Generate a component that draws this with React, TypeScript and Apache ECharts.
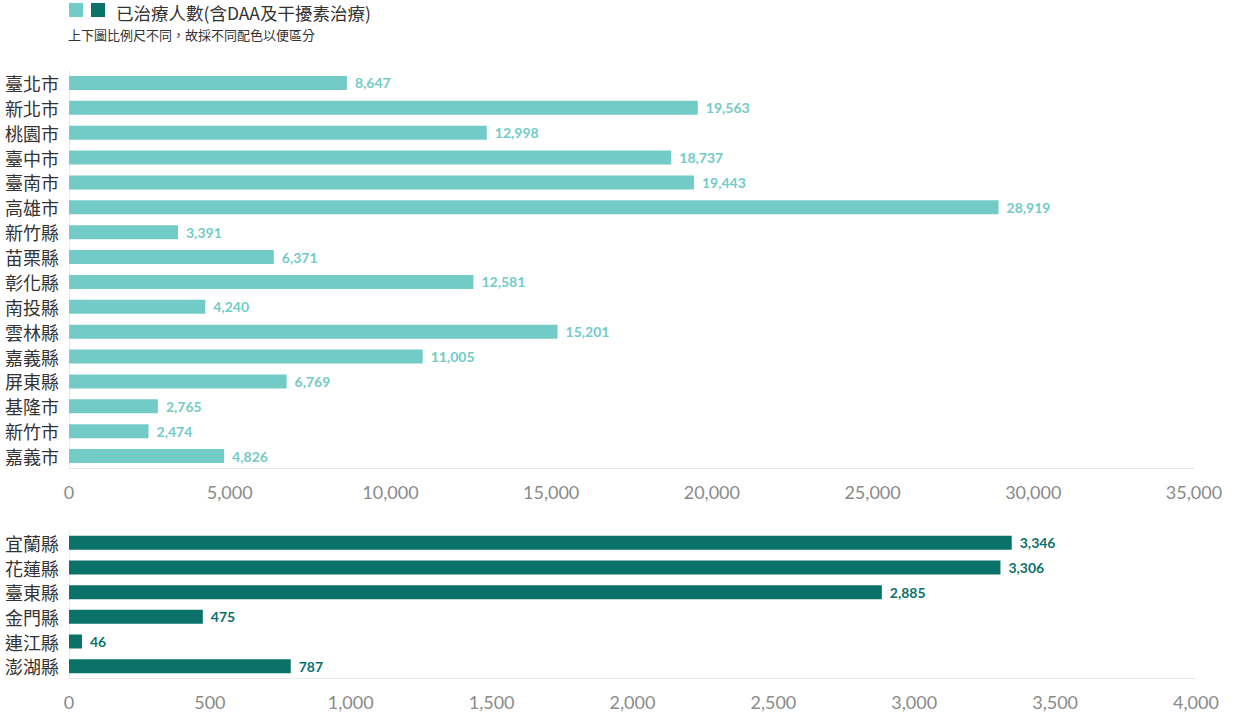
import React, { useEffect, useRef } from "react";
import * as echarts from "echarts";

const topCategories = ["臺北市", "新北市", "桃園市", "臺中市", "臺南市", "高雄市", "新竹縣", "苗栗縣", "彰化縣", "南投縣", "雲林縣", "嘉義縣", "屏東縣", "基隆市", "新竹市", "嘉義市"];
const topValues = [8647, 19563, 12998, 18737, 19443, 28919, 3391, 6371, 12581, 4240, 15201, 11005, 6769, 2765, 2474, 4826];
const bottomCategories = ["宜蘭縣", "花蓮縣", "臺東縣", "金門縣", "連江縣", "澎湖縣"];
const bottomValues = [3346, 3306, 2885, 475, 46, 787];
const legendTitle = "已治療人數(含DAA及干擾素治療)";
const legendNote = "上下圖比例尺不同，故採不同配色以便區分";

const topColor = "#72cbc6";
const bottomColor = "#0b726a";
const cjk = "'Noto Sans CJK TC', 'Noto Sans', sans-serif";
const num = "Lato, 'Noto Sans', sans-serif";

export default function App() {
  const ref = useRef<HTMLDivElement>(null);
  useEffect(() => {
    document.body.style.margin = "0";
    const chart = echarts.init(ref.current!, null, { renderer: "svg" });
    const fmt = (v: number) => v.toLocaleString("en-US");
    const xAxisCommon = {
      type: "value" as const,
      axisLine: { show: true, lineStyle: { color: "#e8e8e8", width: 1 } },
      axisTick: { show: false },
      splitLine: { show: false },
      axisLabel: { color: "#8a8a8a", fontSize: 18, fontFamily: num, margin: 14, formatter: (v: number) => fmt(v) },
    };
    const yAxisCommon = {
      type: "category" as const,
      inverse: true,
      axisLine: { show: true, lineStyle: { color: "#eeeeee", width: 1 } },
      axisTick: { show: false },
      axisLabel: { color: "#333333", fontSize: 18, fontFamily: cjk, margin: 10 },
    };
    chart.setOption({
      animation: false,
      grid: [
        { left: 69, right: 46, top: 70.5, height: 398 },
        { left: 69, right: 44, top: 530.5, height: 148 },
      ],
      xAxis: [
        { ...xAxisCommon, gridIndex: 0, min: 0, max: 35000, interval: 5000 },
        { ...xAxisCommon, gridIndex: 1, min: 0, max: 4000, interval: 500 },
      ],
      yAxis: [
        { ...yAxisCommon, gridIndex: 0, data: topCategories },
        { ...yAxisCommon, gridIndex: 1, data: bottomCategories },
      ],
      series: [
        {
          type: "bar",
          xAxisIndex: 0,
          yAxisIndex: 0,
          data: topValues,
          barWidth: 14,
          itemStyle: { color: topColor },
          label: { show: true, position: "right", distance: 8, color: topColor, fontWeight: "bold", fontSize: 14, fontFamily: num, formatter: (p: any) => fmt(p.value) },
        },
        {
          type: "bar",
          xAxisIndex: 1,
          yAxisIndex: 1,
          data: bottomValues,
          barWidth: 14,
          itemStyle: { color: bottomColor },
          label: { show: true, position: "right", distance: 8, color: bottomColor, fontWeight: "bold", fontSize: 14, fontFamily: num, formatter: (p: any) => fmt(p.value) },
        },
      ],
      graphic: [
        { type: "rect", left: 69, top: 3, shape: { width: 14, height: 14 }, style: { fill: topColor } },
        { type: "rect", left: 91, top: 3, shape: { width: 14, height: 14 }, style: { fill: bottomColor } },
        { type: "text", left: 116, top: 4, style: { text: legendTitle, fill: "#333333", fontSize: 17.5, fontFamily: cjk } },
        { type: "text", left: 68, top: 28, style: { text: legendNote, fill: "#333333", fontSize: 13, fontFamily: cjk } },
      ],
    });
    return () => chart.dispose();
  }, []);
  return <div ref={ref} style={{ width: 1240, height: 715 }} />;
}
